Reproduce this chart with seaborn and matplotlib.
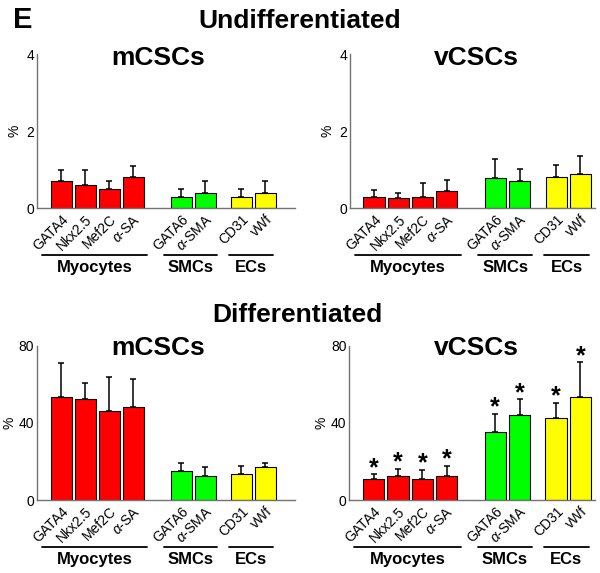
import seaborn as sns
import matplotlib.pyplot as plt
import matplotlib.transforms as mtransforms
import pandas as pd

markers = ['GATA4', 'Nkx2.5', 'Mef2C', r'$\alpha$-SA', 'GATA6', r'$\alpha$-SMA', 'CD31', 'vWf']
positions = [1, 2, 3, 4, 6, 7, 8.5, 9.5]
groups = ['Myocytes', 'SMCs', 'ECs']

# undifferentiated (%), mean and SD
undiff_m = [0.7, 0.6, 0.5, 0.8, 0.3, 0.4, 0.3, 0.4]
undiff_m_err = [0.3, 0.4, 0.2, 0.3, 0.2, 0.3, 0.2, 0.3]
undiff_v = [0.30, 0.26, 0.30, 0.46, 0.78, 0.72, 0.82, 0.89]
undiff_v_err = [0.17, 0.14, 0.35, 0.27, 0.49, 0.29, 0.29, 0.46]

# differentiated (%)
diff_m = [53.6, 52.4, 46.3, 48.1, 14.9, 12.3, 13.3, 17.0]
diff_m_err = [17.3, 8.1, 17.5, 14.5, 4.3, 5.0, 4.2, 2.0]
diff_v = [10.7, 12.4, 11.1, 12.4, 35.4, 44.2, 42.3, 53.6]
diff_v_err = [2.6, 3.8, 4.6, 5.1, 9.2, 8.0, 8.1, 17.8]
diff_v_sig = [True] * 8

colors = ['#ff0000'] * 4 + ['#00ff00'] * 2 + ['#ffff00'] * 2
palette = dict(zip(markers, colors))
group_spans = [(0.2, 4.6), (5.3, 7.5), (8.0, 9.85)]

sns.set_style('white')
plt.rcParams['font.family'] = ['Liberation Sans', 'DejaVu Sans']
plt.rcParams['mathtext.fontset'] = 'custom'
plt.rcParams['mathtext.rm'] = 'Liberation Sans'
plt.rcParams['mathtext.it'] = 'Liberation Sans:italic'
for k in ['text.color', 'axes.labelcolor', 'xtick.color', 'ytick.color']:
    plt.rcParams[k] = 'black'

W, H = 600, 573
fig = plt.figure(figsize=(6, 5.73), dpi=100)


def px_axes(left, right, top, bottom):
    return fig.add_axes([left / W, 1 - bottom / H, (right - left) / W, (bottom - top) / H])


def panel(ax, vals, errs, ymax, yticks, xmax, pct_dx, sig=None):
    df = pd.DataFrame({'pos': positions, 'val': vals, 'marker': markers})
    sns.barplot(data=df, x='pos', y='val', hue='marker', palette=palette, native_scale=True,
                dodge=False, width=0.875, saturation=1, edgecolor='black', linewidth=0.8,
                legend=False, errorbar=None, ax=ax)
    ax.errorbar(positions, vals, yerr=[[0] * len(vals), errs], fmt='none', ecolor='black',
                elinewidth=1.1, capsize=2.5, capthick=1.1, zorder=1)
    ax.set_xlim(0, xmax)
    ax.set_ylim(0, ymax)
    ax.set_yticks(yticks)
    ax.set_xticks(positions)
    off = mtransforms.ScaledTranslation(8 / 100, 0, fig.dpi_scale_trans)
    ax.set_xticklabels(markers, rotation=45, ha='right', va='top', rotation_mode='anchor', fontsize=10)
    for lab in ax.get_xticklabels():
        lab.set_transform(lab.get_transform() + off)
    ax.tick_params(axis='x', length=0, pad=3)
    ax.tick_params(axis='y', direction='in', length=3, pad=2, labelsize=10, color='0.45')
    ax.set_xlabel('')
    ax.set_ylabel('')
    for s in ['top', 'right']:
        ax.spines[s].set_visible(False)
    for s in ['left', 'bottom']:
        ax.spines[s].set_color('0.45')
        ax.spines[s].set_linewidth(1)
    ax.annotate('%', (0, yticks[1] / ymax), xycoords='axes fraction', xytext=(-pct_dx * 0.72, 0),
                textcoords='offset points', rotation=90, ha='center', va='center', fontsize=10)
    for (x0, x1), g in zip(group_spans, groups):
        ax.plot([x0, x1], [-0.303, -0.303], color='black', lw=1.3, clip_on=False,
                transform=ax.get_xaxis_transform())
        ax.text((x0 + x1) / 2, -0.385, g, transform=ax.get_xaxis_transform(),
                ha='center', va='center', fontsize=12, fontweight='bold')
    if sig is not None:
        for p, v, e, s in zip(positions, vals, errs, sig):
            if s:
                ax.annotate('*', (p, v + e), xytext=(0, -4), textcoords='offset points',
                            ha='center', va='bottom', fontsize=18, fontweight='bold')


ax1 = px_axes(37, 295, 54, 208.3)
panel(ax1, undiff_m, undiff_m_err, 4, [0, 2, 4], 10.75, 23)
ax2 = px_axes(349.7, 595, 54, 208.3)
panel(ax2, undiff_v, undiff_v_err, 4, [0, 2, 4], 10.1, 22)
ax3 = px_axes(37, 295, 345.7, 500)
panel(ax3, diff_m, diff_m_err, 80, [0, 40, 80], 10.75, 28)
ax4 = px_axes(349.3, 595, 345.7, 500)
panel(ax4, diff_v, diff_v_err, 80, [0, 40, 80], 10.1, 28, sig=diff_v_sig)


def ftext(x, y, s, size):
    fig.text(x / W, 1 - y / H, s, ha='center', va='baseline', fontsize=size, fontweight='bold')


ftext(23, 28, 'E', 21)
ftext(300, 28, 'Undifferentiated', 19)
ftext(158, 65, 'mCSCs', 19)
ftext(476, 65, 'vCSCs', 19)
ftext(297, 322, 'Differentiated', 19)
ftext(158, 355, 'mCSCs', 19)
ftext(476, 355, 'vCSCs', 19)

fig.savefig('out.png', dpi=100)
